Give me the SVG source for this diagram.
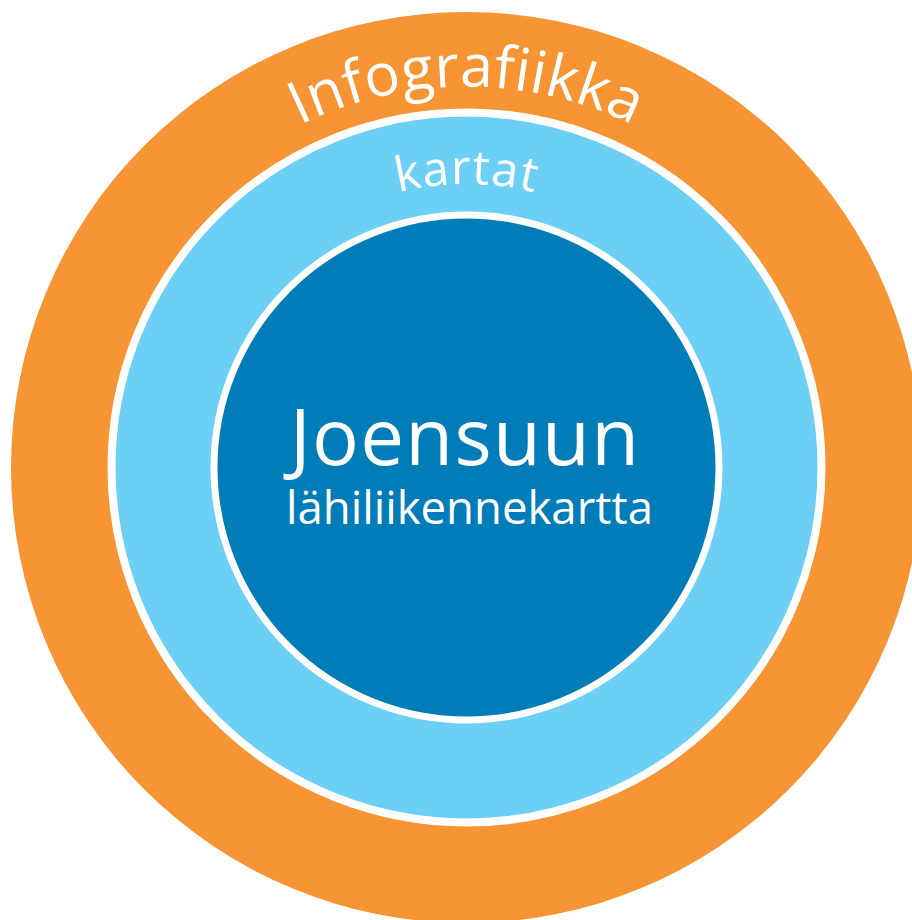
<svg xmlns="http://www.w3.org/2000/svg" xmlns:xlink="http://www.w3.org/1999/xlink" width="912" height="920" viewBox="0 0 912 920">
  <style>
    .lbl { fill: #ffffff; font-family: "Open Sans", "Noto Sans", "Liberation Sans", sans-serif; }
    .ring { stroke: #ffffff; }
  </style>
  <defs>
    <!-- baseline arcs over the top of each ring, drawn left to right -->
    <path id="arcOuter" d="M 85.5 467.5 A 381 381 0 0 1 847.5 467.5"/>
    <path id="arcMid" d="M 183 467.5 A 283.5 283.5 0 0 1 750 467.5"/>
  </defs>
  <rect width="912" height="920" fill="#ffffff"/>

  <g id="infografiikka">
    <circle cx="466.5" cy="467.5" r="455.5" fill="#F79433"/>
    <text class="lbl" font-size="59" letter-spacing="0.3"><textPath xlink:href="#arcOuter" startOffset="50%" text-anchor="middle">Infografiikka</textPath></text>
  </g>

  <g id="kartat">
    <circle class="ring" cx="466.5" cy="467.5" r="355" fill="#6CCFF6" stroke-width="8"/>
    <text class="lbl" font-size="48" letter-spacing="1"><textPath xlink:href="#arcMid" startOffset="50%" text-anchor="middle">kartat</textPath></text>
  </g>

  <g id="lahiliikennekartta">
    <circle class="ring" cx="466.5" cy="467.5" r="252.5" fill="#007DB8" stroke-width="7"/>
    <text class="lbl" x="465" y="465" font-size="78" letter-spacing="1.3" text-anchor="middle">Joensuun</text>
    <text class="lbl" x="469.5" y="524" font-size="45.5" text-anchor="middle">lähiliikennekartta</text>
  </g>

  <g id="connectors"/>
</svg>
